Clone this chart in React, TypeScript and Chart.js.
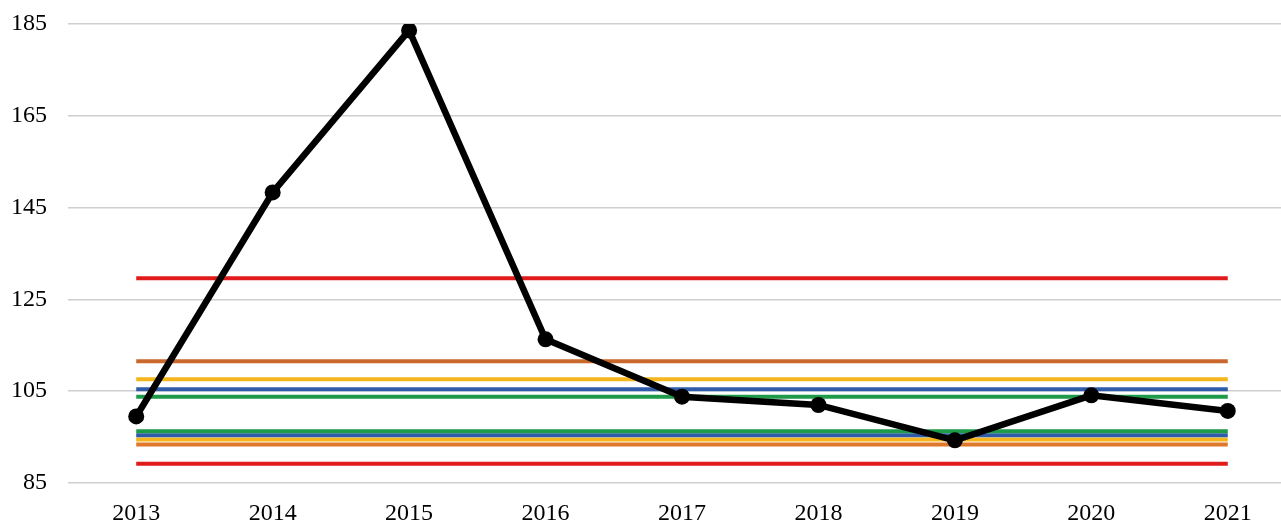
import React, { useEffect, useRef } from "react";
import { Chart, registerables } from "chart.js";

Chart.register(...registerables);

const years = ["2013", "2014", "2015", "2016", "2017", "2018", "2019", "2020", "2021"];
const mainValues = [99.5, 148.3, 183.6, 116.3, 103.8, 102.0, 94.3, 104.1, 100.7];

const redUpper = 129.6;
const orangeUpper = 111.5;
const yellowUpper = 107.6;
const blueUpper = 105.4;
const greenUpper = 103.8;
const greenLower = 96.3;
const blueLower = 95.4;
const yellowLower = 94.5;
const orangeLower = 93.4;
const redLower = 89.2;

const yTicks = [85, 105, 125, 145, 165, 185];

const levelLines: { value: number; color: string }[] = [
  { value: redUpper, color: "#E01B1B" },
  { value: orangeUpper, color: "#C8682C" },
  { value: yellowUpper, color: "#F5B51C" },
  { value: blueUpper, color: "#2F5BA8" },
  { value: greenUpper, color: "#1E9A48" },
  { value: greenLower, color: "#1E9A48" },
  { value: blueLower, color: "#2F5BA8" },
  { value: yellowLower, color: "#F5B51C" },
  { value: orangeLower, color: "#E0782C" },
  { value: redLower, color: "#E01B1B" },
];

export default function App() {
  const ref = useRef<HTMLCanvasElement | null>(null);

  useEffect(() => {
    if (!ref.current) return;
    const datasets: any[] = [
      {
        label: "main",
        data: mainValues,
        borderColor: "#000000",
        backgroundColor: "#000000",
        borderWidth: 6.5,
        pointRadius: 8,
        pointBackgroundColor: "#000000",
        pointBorderWidth: 0,
        tension: 0,
        order: 0,
      },
      ...levelLines.map((l, i) => ({
        label: "level" + i,
        data: years.map(() => l.value),
        borderColor: l.color,
        borderWidth: 4,
        pointRadius: 0,
        fill: false,
        order: 1,
      })),
    ];
    const chart = new Chart(ref.current, {
      type: "line",
      data: { labels: years, datasets },
      options: {
        animation: false,
        responsive: false,
        maintainAspectRatio: false,
        layout: { autoPadding: false, padding: { top: 0, bottom: 0, left: 0, right: 0 } },
        plugins: { legend: { display: false }, tooltip: { enabled: false } },
        scales: {
          x: {
            offset: true,
            grid: { display: false, drawTicks: false },
            border: { display: false },
            afterFit: (axis: any) => {
              axis.height = 42;
            },
            ticks: {
              color: "#000",
              padding: 19,
              font: { family: "Liberation Serif", size: 24, lineHeight: 1 },
              maxRotation: 0,
            },
          },
          y: {
            min: 85,
            max: 185,
            afterBuildTicks: (axis: any) => {
              axis.ticks = yTicks.map((v) => ({ value: v }));
            },
            afterFit: (axis: any) => {
              axis.width = 68;
              axis.paddingTop = 24;
            },
            grid: { color: "#cfcfcf", lineWidth: 1.5, drawTicks: false },
            border: { display: false },
            ticks: {
              color: "#000",
              padding: 21,
              font: { family: "Liberation Serif", size: 24, lineHeight: 1.2 },
            },
          },
        },
      },
    });
    return () => chart.destroy();
  }, []);

  return (
    <div style={{ position: "fixed", left: 0, top: 0, width: 1296, height: 525, background: "#fff" }}>
      <canvas ref={ref} width={1296} height={525} />
    </div>
  );
}
